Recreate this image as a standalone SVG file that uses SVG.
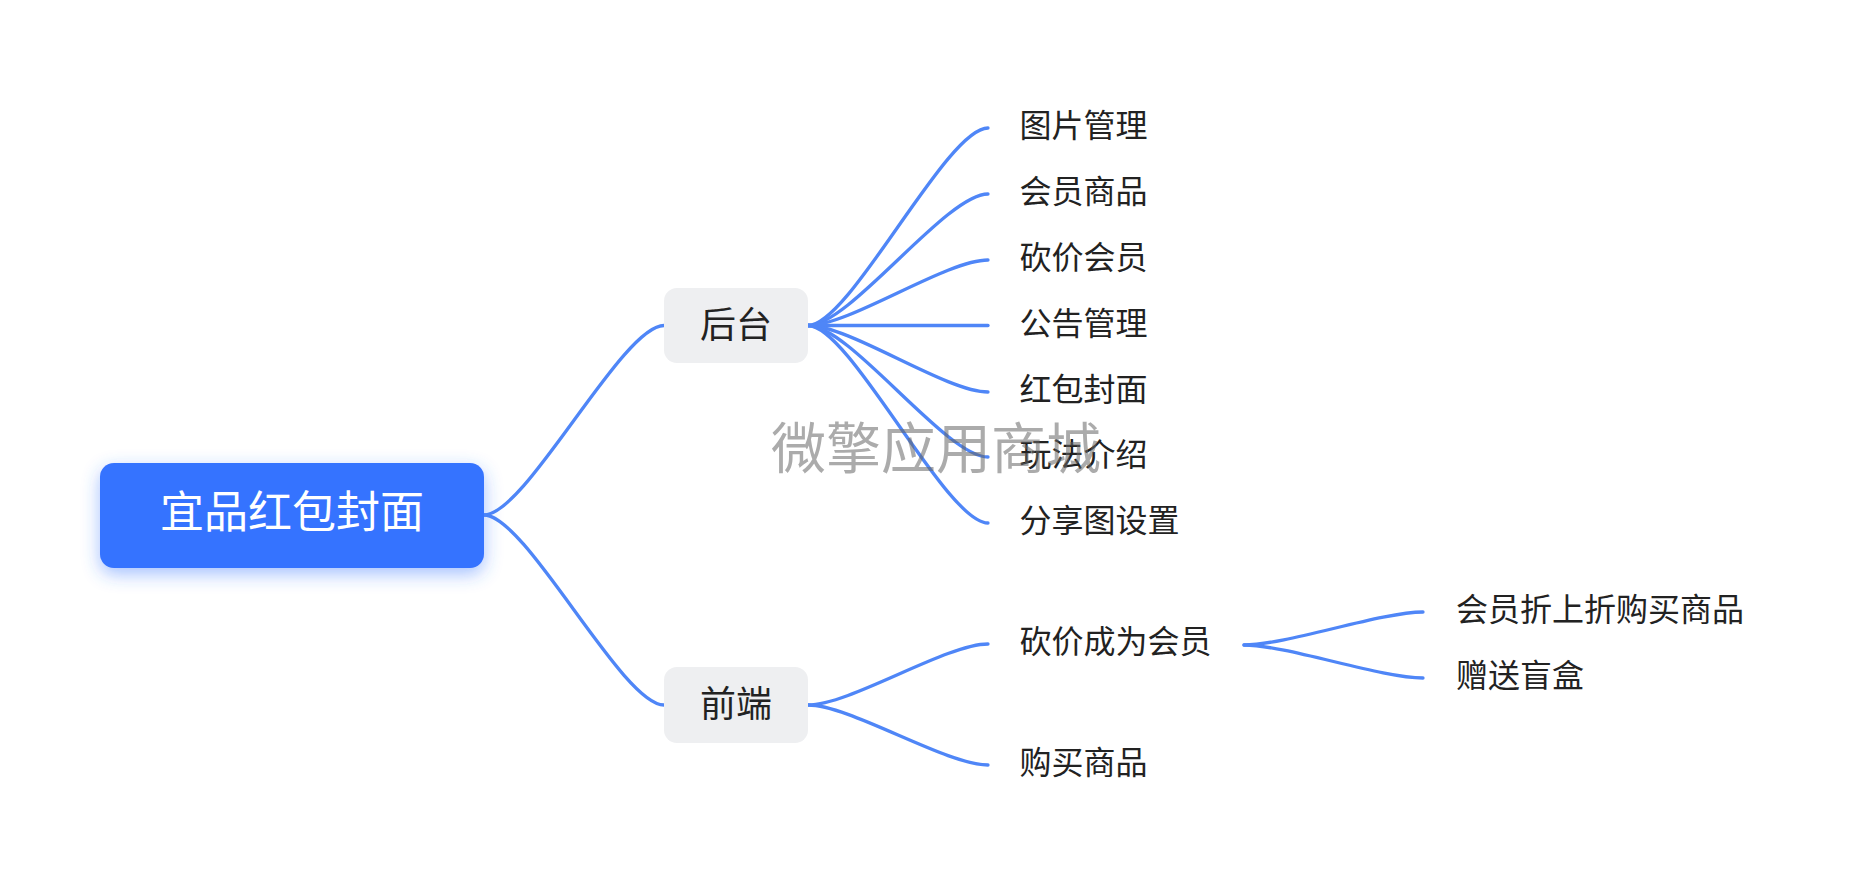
<svg xmlns="http://www.w3.org/2000/svg" width="1876" height="894" viewBox="0 0 1876 894">
<defs>
<filter id="glow" x="-20%" y="-40%" width="140%" height="190%">
<feDropShadow dx="0" dy="6" stdDeviation="9" flood-color="#3673ff" flood-opacity="0.45"/>
</filter>
<style>
.ln{fill:none;stroke:#4f86f7;stroke-width:3.3;stroke-linecap:round}
.t{font-family:"Noto Sans CJK SC","Noto Sans",sans-serif;fill:#222}
.leaf{font-size:32px}
.sub{font-size:36px;text-anchor:middle}
.root{font-size:44px;fill:#ffffff;text-anchor:middle}
.wm{font-family:"Noto Sans CJK SC",sans-serif;font-size:55px;fill:#666;fill-opacity:0.55}
</style>
</defs>
<rect width="1876" height="894" fill="#ffffff"/>
<g id="connectors">
<path class="ln" d="M484 515 C526 515 622 325.5 664 325.5"/>
<path class="ln" d="M484 515 C526 515 622 705 664 705"/>
<path class="ln" d="M808 325.5 C850 325.5 946 128 988 128"/>
<path class="ln" d="M808 325.5 C850 325.5 946 194 988 194"/>
<path class="ln" d="M808 325.5 C850 325.5 946 260 988 260"/>
<path class="ln" d="M808 325.5 L988 325.5"/>
<path class="ln" d="M808 325.5 C850 325.5 946 392 988 392"/>
<path class="ln" d="M808 325.5 C850 325.5 946 457 988 457"/>
<path class="ln" d="M808 325.5 C850 325.5 946 523 988 523"/>
<path class="ln" d="M808 705 C850 705 946 644 988 644"/>
<path class="ln" d="M808 705 C850 705 946 765 988 765"/>
<path class="ln" d="M1244 645 C1286 645 1381 612 1423 612"/>
<path class="ln" d="M1244 645 C1286 645 1381 678 1423 678"/>
</g>
<g id="root">
<rect x="100" y="463" width="384" height="105" rx="14" fill="#3673ff" filter="url(#glow)"/>
<text class="t root" x="292" y="527.5">宜品红包封面</text>
</g>
<g id="houtai">
<rect x="664" y="288" width="144" height="75" rx="13" fill="#eeeff1"/>
<text class="t sub" x="736" y="337.5">后台</text>
</g>
<g id="qianduan">
<rect x="664" y="667" width="144" height="76" rx="13" fill="#eeeff1"/>
<text class="t sub" x="736" y="716.5">前端</text>
</g>
<g id="n-tupian"><text class="t leaf" x="1019.5" y="137">图片管理</text></g>
<g id="n-huiyuanshangpin"><text class="t leaf" x="1019.5" y="203">会员商品</text></g>
<g id="n-kanjiahuiyuan"><text class="t leaf" x="1019.5" y="269">砍价会员</text></g>
<g id="n-gonggao"><text class="t leaf" x="1019.5" y="335">公告管理</text></g>
<g id="n-hongbao"><text class="t leaf" x="1019.5" y="401">红包封面</text></g>
<g id="n-wanfa"><text class="t leaf" x="1019.5" y="466">玩法介绍</text></g>
<g id="n-fenxiang"><text class="t leaf" x="1019.5" y="532">分享图设置</text></g>
<g id="n-kanjiachengwei"><text class="t leaf" x="1019.5" y="653">砍价成为会员</text></g>
<g id="n-goumai"><text class="t leaf" x="1019.5" y="774">购买商品</text></g>
<g id="n-zheshangzhe"><text class="t leaf" x="1456" y="621">会员折上折购买商品</text></g>
<g id="n-zengsong"><text class="t leaf" x="1456" y="687">赠送盲盒</text></g>
<text class="wm" x="771" y="467.5">微擎应用商城</text>
</svg>
